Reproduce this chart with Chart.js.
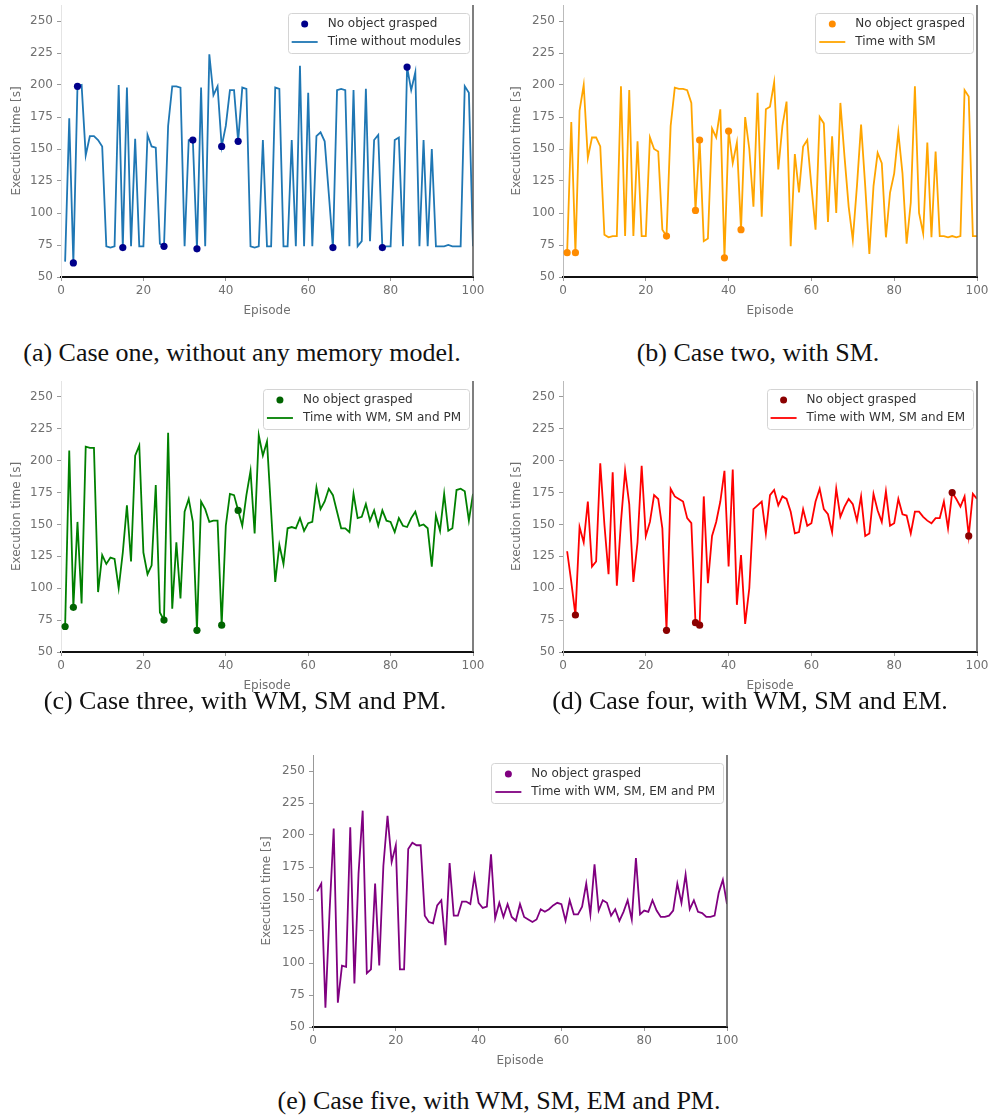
<!DOCTYPE html>
<html>
<head>
<meta charset="utf-8">
<script src="https://cdn.jsdelivr.net/npm/chart.js@4.4.0/dist/chart.umd.min.js"></script>
<style>
  body { margin: 0; background: #fff; width: 989px; height: 1117px; position: relative; overflow: hidden; }
  canvas { position: absolute; }
  .caption {
    position: absolute; transform: translateX(-50%); white-space: nowrap;
    font-family: "Liberation Serif", "Times New Roman", serif; font-size: 26px; line-height: 26px; color: #111;
  }
</style>
</head>
<body>
<canvas id="caseOne" width="490" height="327" style="left:0px;top:-7px"></canvas>
<canvas id="caseTwo" width="500" height="327" style="left:500px;top:-7px"></canvas>
<canvas id="caseThree" width="490" height="326" style="left:0px;top:369px"></canvas>
<canvas id="caseFour" width="500" height="326" style="left:500px;top:369px"></canvas>
<canvas id="caseFive" width="494" height="327" style="left:250px;top:743px"></canvas>

<div class="caption" style="left:242px;top:340px">(a) Case one, without any memory model.</div>
<div class="caption" style="left:758px;top:340px">(b) Case two, with SM.</div>
<div class="caption" style="left:245px;top:688px">(c) Case three, with WM, SM and PM.</div>
<div class="caption" style="left:750px;top:688px">(d) Case four, with WM, SM and EM.</div>
<div class="caption" style="left:499px;top:1088px">(e) Case five, with WM, SM, EM and PM.</div>

<script>
// episodes 1..100
const episodes = Array.from({ length: 100 }, (_, i) => i + 1);
const xTicks = [0, 20, 40, 60, 80, 100];
const yTicks = [50, 75, 100, 125, 150, 175, 200, 225, 250];
const yMax = 262.5;

// execution time per episode [s]
const timeNoModules = [
  62, 174, 61, 199, 200, 145, 160, 160, 157, 152,
  74, 73, 74, 200, 73, 198, 74, 158, 74, 74,
  161, 152, 151, 76, 74, 168, 199, 199, 198, 74,
  157, 157, 72, 198, 74, 224, 192, 199, 152, 168,
  196, 196, 156, 198, 197, 74, 73, 74, 157, 74,
  74, 198, 197, 74, 74, 157, 74, 215, 74, 194,
  74, 160, 163, 156, 115, 73, 196, 197, 196, 74,
  196, 74, 78, 197, 78, 157, 161, 73, 74, 74,
  157, 159, 74, 214, 196, 210, 74, 157, 74, 150,
  74, 74, 74, 75, 74, 74, 74, 199, 194, 74
];
const timeSM = [
  69, 171, 69, 180, 200, 143, 159, 159, 152, 83,
  81, 82, 82, 199, 82, 196, 82, 156, 82, 82,
  159, 150, 148, 87, 82, 168, 198, 197, 197, 196,
  186, 102, 157, 78, 80, 166, 159, 181, 65, 164,
  139, 155, 87, 175, 150, 105, 194, 97, 181, 183,
  202, 134, 168, 187, 74, 146, 116, 152, 157, 121,
  87, 175, 170, 93, 160, 100, 186, 144, 105, 79,
  121, 169, 121, 68, 121, 147, 139, 81, 116, 131,
  163, 131, 76, 108, 199, 100, 84, 155, 81, 148,
  82, 82, 81, 82, 81, 82, 196, 191, 82, 82
];
const timeWmSmPm = [
  70, 208, 85, 152, 88, 211, 210, 210, 97, 126,
  119, 124, 123, 100, 128, 165, 121, 204, 212, 128,
  111, 118, 181, 81, 75, 222, 84, 136, 92, 160,
  170, 152, 67, 168, 162, 152, 153, 153, 71, 149,
  174, 173, 161, 149, 173, 192, 143, 220, 204, 215,
  160, 105, 134, 119, 147, 148, 147, 155, 145, 151,
  152, 179, 162, 168, 178, 173, 160, 147, 147, 144,
  174, 155, 156, 166, 153, 161, 149, 161, 153, 152,
  144, 155, 149, 148, 155, 160, 149, 150, 147, 117,
  157, 145, 174, 145, 147, 177, 178, 176, 153, 174
];
const timeWmSmEm = [
  129, 105, 79, 148, 136, 168, 117, 121, 198, 150,
  111, 191, 102, 152, 192, 166, 105, 136, 196, 141,
  152, 173, 170, 147, 67, 178, 172, 170, 168, 155,
  151, 73, 71, 172, 104, 141, 152, 168, 192, 117,
  193, 87, 126, 72, 100, 162, 165, 168, 143, 173,
  177, 165, 172, 170, 160, 143, 144, 162, 149, 151,
  168, 178, 162, 158, 144, 178, 156, 164, 170, 166,
  153, 172, 141, 143, 174, 161, 152, 176, 149, 151,
  170, 158, 157, 143, 160, 160, 156, 153, 151, 155,
  155, 168, 147, 175, 170, 164, 172, 141, 174, 170
];
const timeWmSmEmPm = [
  156, 162, 65, 140, 205, 69, 98, 97, 206, 84,
  170, 219, 92, 95, 162, 98, 176, 215, 179, 192,
  95, 95, 189, 194, 192, 192, 137, 132, 131, 145,
  149, 114, 178, 137, 137, 148, 148, 146, 168, 147,
  143, 144, 185, 135, 147, 136, 146, 136, 133, 146,
  136, 134, 132, 134, 142, 140, 142, 145, 147, 146,
  133, 149, 138, 138, 144, 162, 138, 177, 141, 149,
  147, 137, 142, 133, 140, 149, 134, 182, 138, 141,
  140, 149, 141, 136, 136, 137, 141, 162, 147, 169,
  142, 149, 140, 139, 136, 136, 137, 155, 165, 146
];

// episodes where no object was grasped
const failNoModules = [3, 4, 15, 25, 32, 33, 39, 43, 66, 78, 84];
const failSM = [1, 3, 25, 32, 33, 39, 40, 43];
const failWmSmPm = [1, 3, 25, 33, 39, 43];
const failWmSmEm = [3, 25, 32, 33, 94, 98];
const failWmSmEmPm = [];

const tickFont = { family: "DejaVu Sans", size: 12 };
const grey = "#707070";

// framed legend in the upper right corner of the plot area
const legendBox = {
  id: "legendBox",
  afterDraw(chart) {
    const { ctx, chartArea } = chart;
    const [dots, line] = chart.data.datasets;
    ctx.save();
    ctx.font = '12px "DejaVu Sans"';
    const textW = Math.max(ctx.measureText(dots.label).width, ctx.measureText(line.label).width);
    const right = chartArea.right - 4;
    const top = chartArea.top + 8;
    const left = right - textW - 48;
    ctx.fillStyle = "rgba(255,255,255,0.85)";
    ctx.strokeStyle = "#d4d4d4";
    ctx.lineWidth = 1;
    ctx.beginPath();
    ctx.roundRect(Math.round(left) + 0.5, top + 0.5, Math.round(right - left), 40, 3);
    ctx.fill();
    ctx.stroke();
    ctx.fillStyle = dots.backgroundColor;
    ctx.beginPath();
    ctx.arc(left + 17, top + 11, 3.5, 0, Math.PI * 2);
    ctx.fill();
    ctx.strokeStyle = line.borderColor;
    ctx.lineWidth = 1.8;
    ctx.beginPath();
    ctx.moveTo(left + 4, top + 29);
    ctx.lineTo(left + 30, top + 29);
    ctx.stroke();
    ctx.fillStyle = "#333";
    ctx.textBaseline = "middle";
    ctx.fillText(dots.label, left + 40, top + 11);
    ctx.fillText(line.label, left + 40, top + 29);
    ctx.restore();
  }
};

// right-hand frame line
const rightSpine = {
  id: "rightSpine",
  afterDatasetsDraw(chart) {
    const { ctx, chartArea } = chart;
    ctx.save();
    ctx.strokeStyle = "#555";
    ctx.lineWidth = 1.5;
    ctx.beginPath();
    ctx.moveTo(chartArea.right, chartArea.top);
    ctx.lineTo(chartArea.right, chartArea.bottom);
    ctx.stroke();
    ctx.restore();
  }
};

function drawCase(id, series, failed, lineColor, dotColor, lineLabel, yWidth, padRight, leftSpine) {
  const line = episodes.map((e, i) => ({ x: e, y: series[i] }));
  const dots = failed.map((e) => ({ x: e, y: series[e - 1] }));
  return new Chart(document.getElementById(id), {
    type: "line",
    data: {
      datasets: [
        {
          label: "No object grasped",
          data: dots,
          showLine: false,
          pointRadius: 3.6,
          pointHoverRadius: 3.6,
          pointBorderWidth: 0,
          backgroundColor: dotColor,
          borderColor: dotColor
        },
        {
          label: lineLabel,
          data: line,
          borderColor: lineColor,
          backgroundColor: lineColor,
          borderWidth: 1.8,
          pointRadius: 0,
          tension: 0
        }
      ]
    },
    options: {
      responsive: false,
      animation: false,
      devicePixelRatio: 1,
      layout: { padding: { left: 0, right: padRight, top: 12, bottom: 0 } },
      plugins: { legend: { display: false }, tooltip: { enabled: false } },
      scales: {
        x: {
          type: "linear",
          min: 0,
          max: 100,
          afterBuildTicks: (s) => { s.ticks = xTicks.map((v) => ({ value: v })); },
          afterFit: (s) => { s.height = 43; },
          ticks: { font: tickFont, color: grey, maxRotation: 0, padding: 3 },
          grid: { drawOnChartArea: false, tickLength: 4, color: "#999" },
          border: { color: "#111", width: 2 },
          title: { display: true, text: "Episode", color: grey, font: tickFont, padding: { top: 0, bottom: 2 } }
        },
        y: {
          type: "linear",
          min: 50,
          max: yMax,
          afterBuildTicks: (s) => { s.ticks = yTicks.map((v) => ({ value: v })); },
          afterFit: (s) => { s.width = yWidth; },
          ticks: { font: tickFont, color: grey, padding: 4 },
          grid: { drawOnChartArea: false, tickLength: 4, color: "#999" },
          border: { color: leftSpine, width: 1 },
          title: { display: true, text: "Execution time [s]", color: grey, font: tickFont, padding: { top: 10, bottom: 0 } }
        }
      }
    },
    plugins: [rightSpine, legendBox]
  });
}

drawCase("caseOne", timeNoModules, failNoModules, "#1f77b4", "#00008b", "Time without modules", 61, 17, "#e4e4e4");
drawCase("caseTwo", timeSM, failSM, "#ffa500", "#ff8c00", "Time with SM", 63, 23, "#bbbbbb");
drawCase("caseThree", timeWmSmPm, failWmSmPm, "#008000", "#006400", "Time with WM, SM and PM", 61, 17, "#e4e4e4");
drawCase("caseFour", timeWmSmEm, failWmSmEm, "#ff0000", "#8b0000", "Time with WM, SM and EM", 63, 23, "#bbbbbb");
drawCase("caseFive", timeWmSmEmPm, failWmSmEmPm, "#800080", "#800080", "Time with WM, SM, EM and PM", 63, 17, "#999999");
</script>
</body>
</html>
